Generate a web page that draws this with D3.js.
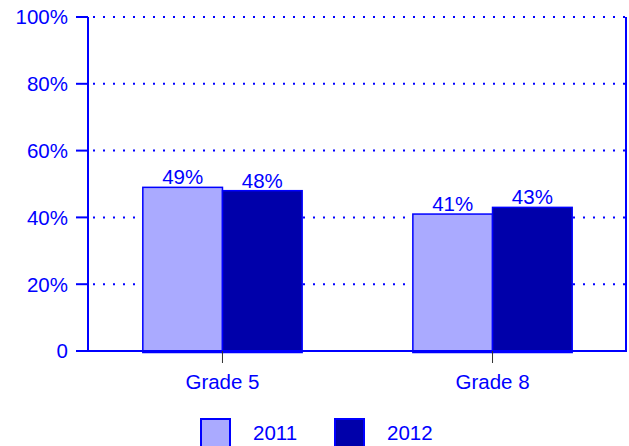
<!DOCTYPE html>
<html>
<head>
<meta charset="utf-8">
<script src="https://cdn.jsdelivr.net/npm/d3@7"></script>
<style>
  body { margin: 0; background: #fff; }
  #chart { width: 629px; height: 446px; }
  text { font-family: "Liberation Sans", Arial, sans-serif; fill: #0000ff; }
</style>
</head>
<body>
<div id="chart"></div>
<script>
// data
const grades = ["Grade 5", "Grade 8"];
const years = ["2011", "2012"];
const values2011 = [0.49, 0.41];
const values2012 = [0.48, 0.43];
const yTicks = [0, 0.2, 0.4, 0.6, 0.8, 1];
const colors = ["#aaaaff", "#0000aa"];

const width = 629, height = 446;
const margin = { top: 17, left: 88, right: 2, bottom: 95 };
const blue = "#0000ff";
const fs = 20.5;

const svg = d3.select("#chart")
    .append("svg")
    .attr("width", width)
    .attr("height", height);

const rows = grades.map((g, i) => ({ grade: g, vals: [values2011[i], values2012[i]] }));

const xScale = d3.scaleBand()
    .domain(grades)
    .range([margin.left, width - margin.right])
    .paddingInner(0.41)
    .paddingOuter(0.203);

const xInner = d3.scaleBand()
    .domain(years)
    .range([0, xScale.bandwidth()]);

const yScale = d3.scaleLinear()
    .domain([0, 1])
    .range([height - margin.bottom, margin.top]);

const x0 = margin.left, x1 = width - margin.right;

// dotted gridlines
svg.selectAll(".grid")
    .data(yTicks.filter(d => d > 0))
    .enter()
    .append("line")
    .attr("class", "grid")
    .attr("x1", x0 + 5)
    .attr("x2", x1 - 2)
    .attr("y1", d => yScale(d))
    .attr("y2", d => yScale(d))
    .attr("stroke", blue)
    .attr("stroke-width", 2)
    .attr("stroke-dasharray", "2,8");

// bars
const groups = svg.selectAll(".grp")
    .data(rows)
    .enter()
    .append("g")
    .attr("class", "grp")
    .attr("transform", d => `translate(${xScale(d.grade)},0)`);

groups.selectAll("rect")
    .data(d => d.vals.map((v, i) => ({ year: years[i], v: v, i: i })))
    .enter()
    .append("rect")
    .attr("x", d => xInner(d.year))
    .attr("y", d => yScale(d.v))
    .attr("width", xInner.bandwidth())
    .attr("height", d => yScale(0) - yScale(d.v) + 1.5)
    .attr("fill", d => colors[d.i])
    .attr("stroke", blue)
    .attr("stroke-width", 1.5);

groups.selectAll(".val")
    .data(d => d.vals.map((v, i) => ({ year: years[i], v: v })))
    .enter()
    .append("text")
    .attr("class", "val")
    .attr("x", d => xInner(d.year) + xInner.bandwidth() / 2)
    .attr("y", d => yScale(d.v) - 3)
    .attr("text-anchor", "middle")
    .attr("font-size", fs)
    .text(d => Math.round(d.v * 100) + "%");

// axes lines
const yb = yScale(0);
svg.append("line")
    .attr("x1", x0 - 12).attr("x2", x1)
    .attr("y1", yb).attr("y2", yb)
    .attr("stroke", blue).attr("stroke-width", 2);
svg.append("line")
    .attr("x1", x0).attr("x2", x0)
    .attr("y1", yScale(1)).attr("y2", yb)
    .attr("stroke", blue).attr("stroke-width", 2);
svg.append("line")
    .attr("x1", x1 - 1).attr("x2", x1 - 1)
    .attr("y1", yScale(1)).attr("y2", yb)
    .attr("stroke", blue).attr("stroke-width", 2);

// y ticks and labels
svg.selectAll(".ytick")
    .data(yTicks)
    .enter()
    .append("line")
    .attr("class", "ytick")
    .attr("x1", x0 - 12).attr("x2", x0)
    .attr("y1", d => yScale(d)).attr("y2", d => yScale(d))
    .attr("stroke", blue).attr("stroke-width", 2);

svg.selectAll(".ylab")
    .data(yTicks)
    .enter()
    .append("text")
    .attr("class", "ylab")
    .attr("x", x0 - 20)
    .attr("y", d => yScale(d))
    .attr("dy", "0.36em")
    .attr("text-anchor", "end")
    .attr("font-size", fs)
    .text(d => d === 0 ? "0" : Math.round(d * 100) + "%");

// category ticks and labels
svg.selectAll(".xtick")
    .data(grades)
    .enter()
    .append("line")
    .attr("class", "xtick")
    .attr("x1", d => xScale(d) + xScale.bandwidth() / 2)
    .attr("x2", d => xScale(d) + xScale.bandwidth() / 2)
    .attr("y1", yb).attr("y2", yb + 12)
    .attr("stroke", "#333").attr("stroke-width", 1);

svg.selectAll(".xlab")
    .data(grades)
    .enter()
    .append("text")
    .attr("class", "xlab")
    .attr("x", d => xScale(d) + xScale.bandwidth() / 2)
    .attr("y", yb + 38)
    .attr("text-anchor", "middle")
    .attr("font-size", fs)
    .text(d => d);

// legend
const legendX = [201, 335];
const legend = svg.selectAll(".leg")
    .data(years)
    .enter()
    .append("g")
    .attr("class", "leg")
    .attr("transform", (d, i) => `translate(${legendX[i]},419)`);

legend.append("rect")
    .attr("width", 29)
    .attr("height", 29)
    .attr("fill", (d, i) => colors[i])
    .attr("stroke", blue)
    .attr("stroke-width", 2);

legend.append("text")
    .attr("x", 52)
    .attr("y", 21)
    .attr("font-size", fs)
    .text(d => d);
</script>
</body>
</html>
